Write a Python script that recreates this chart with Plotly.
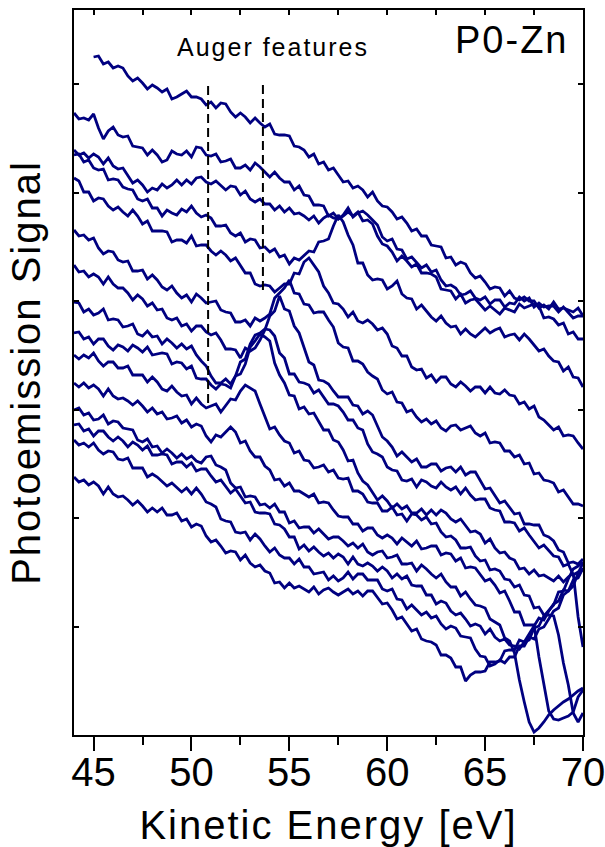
import numpy as np
import plotly.graph_objects as go

# Kinetic energy grid (eV), 0.25 eV steps from 44 to 70 eV
energy = np.round(np.arange(44.0, 70.001, 0.25), 2).tolist()

# Photoemission signal (arb. units, stacked offsets), spectra from top to bottom
s01 = [678,679,671,673,667,669,667,659,654,657,652,646,650,647,643,646,636,638,641,644,638,638,636,630,633,627,
       632,631,623,618,622,618,612,617,612,608,611,601,600,600,599,589,588,585,578,581,571,573,565,567,560,553,
       554,547,549,545,538,543,534,529,528,523,516,518,512,504,506,499,499,490,489,488,477,478,470,473,471,462,
       457,459,453,446,448,447,439,444,437,435,438,434,434,427,430,426,433,426,427,425,423,427,419]  # from 45 eV
s02 = [622,616,617,615,621,607,596,604,608,600,598,599,589,588,587,580,585,580,573,575,584,581,580,584,578,588,
       587,580,579,581,573,574,576,567,567,570,565,572,568,563,558,563,557,553,553,545,549,540,539,530,530,529,
       519,522,516,520,527,518,522,524,520,515,510,498,494,496,486,485,476,478,472,467,470,463,465,455,449,450,
       447,440,441,444,437,435,438,431,435,435,428,432,431,438,434,437,428,432,428,429,429,423,428,422,417,419,419]
s03 = [585,580,582,577,581,578,571,577,569,566,567,560,552,555,550,543,547,545,551,547,550,555,550,555,551,557,
       558,553,551,554,549,545,549,548,540,544,536,533,536,531,531,525,529,523,527,521,522,519,515,519,512,517,
       520,517,516,519,523,519,523,514,515,511,499,491,489,483,474,479,474,468,471,462,462,461,458,446,445,444,
       436,441,432,435,436,430,425,429,425,421,427,425,423,431,427,429,431,429,417,418,416,410,412,401,403,396,396]
s04 = [580,581,573,575,567,565,566,555,556,555,548,546,545,536,534,536,527,527,519,525,522,520,526,523,529,522,
       518,520,517,509,509,510,502,499,502,493,496,495,487,488,483,486,478,480,471,477,475,480,484,483,493,494,
       496,509,520,513,500,490,472,472,460,455,456,455,446,449,454,441,437,436,426,430,424,418,414,419,412,408,
       409,401,406,401,398,403,407,402,405,407,398,400,401,395,401,396,390,384,386,379,374,373,364,368,358,357,348]
s05 = [557,554,543,543,534,537,536,529,525,528,523,519,525,519,511,514,504,504,504,503,493,495,495,492,499,489,
       490,490,484,480,484,480,474,477,470,462,462,451,449,450,449,443,447,451,451,462,461,473,477,470,463,449,
       442,432,431,426,418,423,414,412,415,411,405,407,401,389,387,379,379,368,365,366,357,360,353,358,358,351,
       348,353,349,344,348,348,342,348,342,341,345,340,339,331,333,326,329,318,315,310,305,308,299,300,299,292,286]
s06 = [505,499,500,495,497,487,481,484,483,475,473,474,464,464,465,456,460,455,448,445,449,442,437,440,433,441,
       437,432,433,434,425,423,422,413,413,415,409,417,414,417,421,437,442,447,455,442,441,431,430,422,423,423,
       415,408,392,388,387,374,374,371,363,359,356,345,341,343,333,332,323,325,318,313,316,311,314,307,304,309,
       310,305,307,309,302,299,302,292,293,292,284,284,278,280,271,272,261,262,255,254,252,243,245,238,231,231,229]
s07 = [470,463,464,458,461,458,451,458,451,447,447,442,435,440,436,429,432,425,426,417,415,417,409,411,404,409,
       409,403,400,402,395,386,386,385,377,387,384,387,395,405,419,424,439,426,424,409,402,388,373,370,355,354,
       351,344,338,338,338,330,329,321,324,320,309,298,294,288,279,283,278,273,276,268,268,271,271,264,267,268,
       263,268,260,263,263,254,246,247,240,232,234,228,221,222,211,211,210,210,200,198,194,185,183,172,173,171,176]
s08 = [433,432,423,426,420,422,426,415,416,415,408,409,411,401,399,404,398,399,391,396,392,387,391,386,389,380,
       374,369,359,352,352,356,351,359,373,376,391,400,402,406,405,399,382,377,361,361,353,352,350,342,345,338,
       331,331,329,323,315,315,307,305,291,283,281,278,268,265,264,255,254,256,248,255,253,249,247,253,248,245,
       248,241,247,240,235,236,236,227,225,224,213,213,212,204,207,200,193,187,190,184,179,178,169,171,160,163,165]
s09 = [402,403,396,398,391,396,396,389,385,390,388,384,390,387,383,388,380,381,382,381,371,373,372,366,369,357,
       356,356,350,346,351,350,347,359,361,371,388,394,401,398,394,372,360,352,340,339,326,328,321,322,313,305,
       305,295,293,285,274,275,262,254,250,243,235,239,234,227,231,226,229,222,222,226,220,225,220,225,222,216,
       213,216,210,203,204,201,192,196,187,182,183,177,175,166,167,161,165,159,160,157,154,159,153,158,162,118,88]
s10 = [380,376,380,377,382,374,369,373,373,367,367,369,360,360,360,353,358,353,346,344,349,343,339,340,331,337,
       331,327,329,331,323,329,336,335,344,350,347,344,331,318,306,308,300,294,292,282,284,275,274,267,268,270,
       263,265,257,256,257,244,244,241,233,232,232,224,224,228,220,221,214,221,220,215,218,211,212,203,198,199,
       195,187,187,188,179,174,175,165,166,164,156,155,148,150,140,139,127,128,120,120,119,100,72,50,22,13,22]
s11 = [352,348,352,347,350,346,339,346,339,336,337,334,330,334,329,323,327,321,323,316,317,319,312,315,308,311,
       309,299,293,300,298,303,308,303,292,294,284,278,278,269,265,255,256,249,252,244,244,241,238,241,232,233,
       232,225,219,218,218,211,211,204,207,207,200,197,200,197,191,197,193,189,194,186,187,189,189,180,182,181,
       174,177,167,168,167,160,154,156,150,142,144,134,123,123,110,110,110,78,50,24,16,15,17,19,23,38,45]
s12 = [325,327,320,322,315,316,320,311,314,313,307,306,305,295,293,296,288,289,282,286,282,277,281,276,279,274,
       272,278,279,270,268,265,252,247,248,238,239,238,230,231,227,231,223,223,212,214,207,208,208,202,206,201,
       196,198,198,194,189,192,187,191,183,180,183,184,177,178,180,171,171,172,164,170,166,161,157,161,153,148,
       148,139,143,136,130,129,127,116,113,110,97,94,82,55,33,13,3,7,13,20,25,29,33,36,40,44,47]
s13 = [310,311,304,306,299,304,304,298,294,298,294,288,293,290,285,289,280,280,281,280,271,273,273,268,272,264,
       266,266,259,253,255,249,242,246,239,232,233,223,222,222,221,211,210,206,198,198,186,190,184,188,183,179,
       182,177,181,178,171,178,171,169,172,169,164,168,164,157,161,156,159,150,149,149,140,140,131,134,132,124,
       120,122,116,109,111,109,101,106,98,94,96,90,89,86,93,95,107,109,119,125,130,143,144,156,166,169,173]
s14 = [295,290,292,288,292,285,281,284,283,276,275,277,267,267,267,258,261,258,253,249,252,247,243,247,241,247,
       241,233,231,228,216,214,213,203,202,203,195,201,196,189,183,187,180,177,177,171,176,168,168,161,162,163,
       155,159,154,157,163,156,161,161,155,155,155,146,144,146,136,135,126,130,125,120,123,117,119,111,106,109,
       107,99,98,97,86,79,78,69,71,75,72,78,78,89,89,98,96,106,108,116,124,127,140,144,149,162,172]
s15 = [258,253,255,250,253,249,241,248,241,238,239,235,230,234,229,223,227,223,227,220,220,222,214,216,208,211,
       209,199,193,195,189,182,184,183,175,180,172,168,170,164,162,152,153,147,152,147,149,146,143,148,141,145,
       147,143,140,143,146,141,144,139,144,144,137,131,132,125,116,118,111,104,106,96,94,93,90,80,80,77,68,68,
       54,60,63,63,64,73,73,74,84,85,85,95,93,101,109,117,115,124,131,134,145,144,155,157,167]

spectra = [s01, s02, s03, s04, s05, s06, s07, s08, s09, s10, s11, s12, s13, s14, s15]

# Auger feature markers: energy (eV) and vertical extent (signal units)
auger_energy = [50.85, 53.65]
auger_low = [332, 445]
auger_high = [652, 652]

x_major = [45, 50, 55, 60, 65, 70]
x_minor = [47.5, 52.5, 57.5, 62.5, 67.5]
x_top = [45, 47.5, 50, 52.5, 55, 57.5, 60, 62.5, 65, 67.5, 70]
y_step = 108.5
y_ticks = [y_step * k for k in range(1, 7)]
y_max = 725

LINE = '#000080'
FONT = 'Liberation Sans, Arial, sans-serif'

fig = go.Figure()
for s in spectra:
    xs = energy[len(energy) - len(s):]
    fig.add_trace(go.Scatter(x=xs, y=s, mode='lines',
                             line=dict(color=LINE, width=2.8),
                             showlegend=False, hoverinfo='skip'))
# carrier for the top axis (inward ticks)
fig.add_trace(go.Scatter(x=[None], y=[None], xaxis='x2', yaxis='y', mode='lines',
                         showlegend=False, hoverinfo='skip'))

for xv, lo, hi in zip(auger_energy, auger_low, auger_high):
    fig.add_shape(type='line', xref='x', yref='y', x0=xv, x1=xv, y0=lo, y1=hi,
                  line=dict(color='black', width=2, dash='9px,5px'))

fig.update_layout(
    width=605, height=847,
    margin=dict(l=74, r=22, t=10, b=112),
    paper_bgcolor='white', plot_bgcolor='white',
    font=dict(family=FONT, color='black'),
    xaxis=dict(range=[44, 70], tickvals=x_major, ticks='outside', ticklen=14, tickwidth=2,
               tickcolor='black', showline=True, linewidth=2, linecolor='black', mirror=True,
               showgrid=False, zeroline=False, automargin=False, ticklabelstandoff=-13,
               ticklabeloverflow='allow',
               tickfont=dict(size=40, family=FONT),
               minor=dict(tickvals=x_minor, ticks='outside', ticklen=8, tickwidth=2, tickcolor='black'),
               title=dict(text='Kinetic Energy [eV]', font=dict(size=40, family=FONT), standoff=18)),
    xaxis2=dict(range=[44, 70], overlaying='x', side='top', anchor='y', tickvals=x_top,
                ticks='inside', ticklen=5, tickwidth=2, tickcolor='black', showticklabels=False,
                showline=False, showgrid=False, zeroline=False, automargin=False),
    yaxis=dict(range=[0, y_max], tickvals=y_ticks, ticks='inside', ticklen=5, tickwidth=2,
               tickcolor='black', showticklabels=False, showline=True, linewidth=2,
               linecolor='black', mirror='ticks', showgrid=False, zeroline=False, automargin=False,
               title=dict(text='Photoemission Signal', font=dict(size=40, family=FONT), standoff=19)),
    annotations=[
        dict(text='Auger features', xref='paper', yref='paper', x=0.391, y=0.949,
             xanchor='center', yanchor='middle', showarrow=False, font=dict(size=25, family=FONT)),
        dict(text='P0-Zn', xref='paper', yref='paper', x=0.859, y=0.959,
             xanchor='center', yanchor='middle', showarrow=False, font=dict(size=38, family=FONT)),
    ],
)

post = ("document.documentElement.style.margin='0';document.body.style.margin='0';"
        "document.body.style.padding='0';"
        "setTimeout(function(){document.querySelectorAll('.xtitle, .ytitle, .annotation-text')"
        ".forEach(function(e){e.style.letterSpacing='2px';});}, 0);")
fig.write_html("out.html", post_script=post, config={'displayModeBar': False})
